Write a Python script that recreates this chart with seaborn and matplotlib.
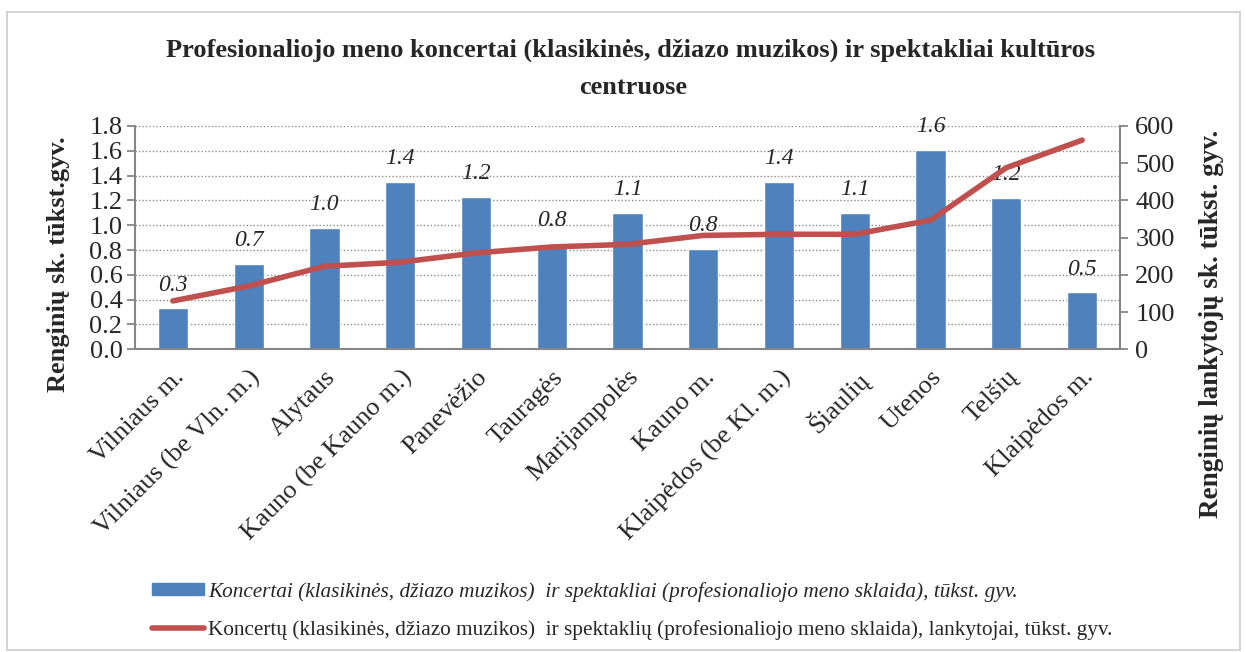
import numpy as np
import pandas as pd
import matplotlib
matplotlib.use("Agg")
import matplotlib.pyplot as plt
import seaborn as sns
from matplotlib.patches import Patch, Rectangle
from matplotlib.lines import Line2D

categories = ["Vilniaus m.", "Vilniaus (be Vln. m.)", "Alytaus", "Kauno (be Kauno m.)",
              "Panevėžio", "Tauragės", "Marijampolės", "Kauno m.", "Klaipėdos (be Kl. m.)",
              "Šiaulių", "Utenos", "Telšių", "Klaipėdos m."]
events = [0.33, 0.69, 0.98, 1.35, 1.23, 0.85, 1.10, 0.81, 1.35, 1.10, 1.61, 1.22, 0.46]
visitors = [130, 170, 223, 234, 259, 275, 282, 306, 309, 309, 347, 488, 562]

title_lines = ["Profesionaliojo meno koncertai (klasikinės, džiazo muzikos) ir spektakliai kultūros",
               "centruose"]
ylabel_left = "Renginių sk. tūkst.gyv."
ylabel_right = "Renginių lankytojų sk. tūkst. gyv."
legend_bar = "Koncertai (klasikinės, džiazo muzikos)  ir spektakliai (profesionaliojo meno sklaida), tūkst. gyv."
legend_line = "Koncertų (klasikinės, džiazo muzikos)  ir spektaklių (profesionaliojo meno sklaida), lankytojai, tūkst. gyv."

sns.set_theme(style="white")
plt.rcParams['font.family'] = ['Liberation Serif', 'DejaVu Serif']

BAR = "#4F81BD"
LINE = "#C0504D"
AX = "#868686"

df = pd.DataFrame({"cat": categories, "events": events, "visitors": visitors,
                   "pos": np.arange(len(categories))})

W, H = 1246, 652
fig = plt.figure(figsize=(W / 100, H / 100), dpi=100)
ax_left, ax_right, ax_top, ax_bot = 135, 1120, 126, 349.3
ax = fig.add_axes([ax_left / W, 1 - ax_bot / H, (ax_right - ax_left) / W, (ax_bot - ax_top) / H])

sns.barplot(data=df, x="cat", y="events", color=BAR, width=0.4, ax=ax, saturation=1)
ax.set_xlim(-0.5, len(categories) - 0.5)
ax.set_ylim(0, 1.8)
yt = np.arange(0, 1.81, 0.2)
ax.set_yticks(yt)
ax.set_yticklabels([f"{v:.1f}" for v in yt], fontsize=19)
ax.yaxis.grid(True, linestyle=(0, (1, 1.5)), color="#8c8c8c", linewidth=1.0)
ax.set_axisbelow(True)
ax.set_xlabel("")
ax.set_ylabel("")

ax.set_xticks(np.arange(len(categories)))
ax.set_xticklabels(categories, rotation=45, ha="right", rotation_mode="anchor", fontsize=19)
ax.tick_params(axis="x", which="major", length=0, pad=12)
ax.set_xticks(np.arange(len(categories) + 1) - 0.5, minor=True)
ax.tick_params(axis="x", which="minor", length=6, color=AX, width=1.3, direction="out")
ax.tick_params(axis="y", length=6, color=AX, width=1.3, direction="out", left=True, pad=3)

for s in ["top", "right"]:
    ax.spines[s].set_visible(False)
for s in ["left", "bottom"]:
    ax.spines[s].set_color(AX)
    ax.spines[s].set_linewidth(1.5)

for i, v in enumerate(events):
    ax.annotate(f"{v:.1f}", (i, v), xytext=(0, 9), textcoords="offset points",
                ha="center", va="bottom", fontsize=17, fontstyle="italic")

ax2 = ax.twinx()
sns.lineplot(data=df, x="pos", y="visitors", color=LINE, linewidth=4, ax=ax2,
             solid_capstyle="round")
ax2.set_ylim(0, 600)
ax2.set_yticks(np.arange(0, 601, 100))
ax2.set_yticklabels([str(v) for v in range(0, 601, 100)], fontsize=19)
ax2.set_ylabel("")
ax2.set_xlabel("")
ax2.set_xlim(-0.5, len(categories) - 0.5)
ax2.tick_params(axis="y", length=6, color=AX, width=1.3, direction="out", right=True, pad=5)
for s in ["top", "left", "bottom"]:
    ax2.spines[s].set_visible(False)
ax2.spines["right"].set_color(AX)
ax2.spines["right"].set_linewidth(1.5)
ax2.grid(False)

fig.text(58 / W, 1 - 264 / H, ylabel_left, rotation=90, ha="center", va="center",
         fontsize=19, fontweight="bold")
fig.text(1212 / W, 1 - 324 / H, ylabel_right, rotation=90, ha="center", va="center",
         fontsize=19.5, fontweight="bold")

fig.text(631 / W, 1 - 57 / H, title_lines[0], ha="center", va="baseline", fontsize=19,
         fontweight="bold")
fig.text(633 / W, 1 - 94 / H, title_lines[1], ha="center", va="baseline", fontsize=19,
         fontweight="bold")

handles = [Patch(facecolor=BAR, edgecolor=BAR),
           Line2D([0], [0], color=LINE, linewidth=4, solid_capstyle="round")]
leg = fig.legend(handles, [legend_bar, legend_line], loc="lower left",
                 bbox_to_anchor=(133 / W, -7 / H), frameon=False, fontsize=15.3,
                 handlelength=2.45, handleheight=0.5, handletextpad=0.2, labelspacing=0.85)
leg.get_texts()[0].set_fontstyle("italic")

fig.add_artist(Rectangle((7 / W, 2 / H), 1233 / W, 638 / H, transform=fig.transFigure,
                         fill=False, edgecolor="#d0d0d0", linewidth=1.3))

fig.savefig("out.png", dpi=100)
